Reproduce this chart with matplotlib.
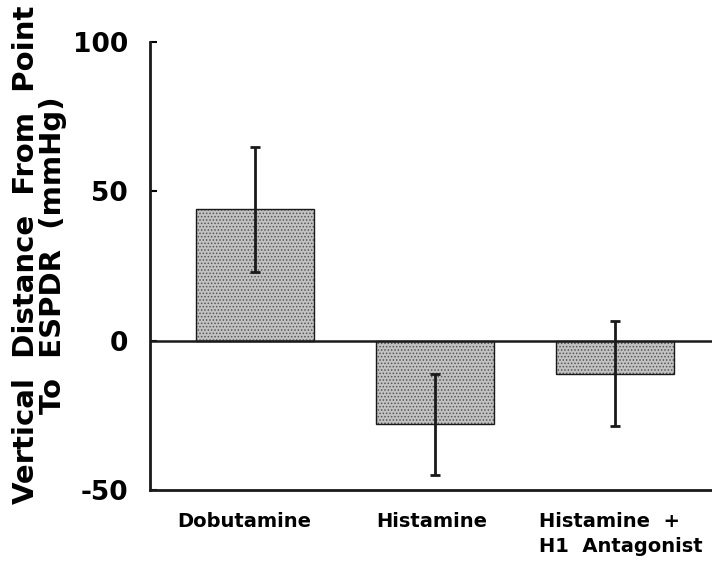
import numpy as np
import matplotlib
matplotlib.use('Agg')
import matplotlib.pyplot as plt
from matplotlib.transforms import ScaledTranslation, blended_transform_factory

plt.rcParams['font.family'] = ['DejaVu Sans']
plt.rcParams['font.weight'] = 'bold'
plt.rcParams['hatch.color'] = '#555555'
plt.rcParams['hatch.linewidth'] = 0.7

# Treatment groups, mean shift and spread (mmHg)
groups = ['Dobutamine', 'Histamine', 'Histamine  +\nH1  Antagonist']
means = [44, -28, -11]
errors = [21, 17, 17.5]

fig = plt.figure(figsize=(7.12, 5.85), dpi=100)
ax = fig.add_axes([150/712, 95/585, 562/712, 448/585])

x = np.arange(1, len(groups) + 1)
width = 0.66

# stippled fill first, then the black outline on top
ax.bar(x, means, width, color='#c2c2c2', hatch='.....', edgecolor='#555555', linewidth=0, zorder=2)
ax.bar(x, means, width, fill=False, edgecolor='#1a1a1a', linewidth=1.0, zorder=3)
ax.errorbar(x, means, yerr=errors, fmt='none', ecolor='#1a1a1a', elinewidth=2.0,
            capsize=3.5, capthick=2.0, zorder=4)

ax.axhline(0, color='#1a1a1a', linewidth=1.8, zorder=5)

ax.set_xlim(0.417, 0.417 + 562/180)
ax.set_ylim(-50, 100)
ax.set_yticks([-50, 0, 50, 100])
ax.set_yticklabels(['-50', '0', '50', '100'])
ax.set_xticks(x)
ax.set_xticklabels([])

# group names under the bars, nudged sideways a little (pixels at 100 dpi)
base = blended_transform_factory(ax.transData, ax.transAxes)
for xi, name, dx in zip(x, groups, [-11, -3, 6]):
    ax.text(xi, -0.05, name, transform=base + ScaledTranslation(dx / 100, 0, fig.dpi_scale_trans),
            ha='center', va='top', multialignment='left', linespacing=1.4,
            fontsize=14, fontweight='bold', clip_on=False)

for side in ['top', 'right']:
    ax.spines[side].set_visible(False)
for side in ['left', 'bottom']:
    ax.spines[side].set_linewidth(2.0)
    ax.spines[side].set_color('#1a1a1a')

ax.tick_params(axis='y', direction='in', length=5, width=1.5, pad=16, labelsize=19)
ax.tick_params(axis='x', length=0)

fig.text(0.056, 0.564, 'Vertical  Distance  From  Point\nTo  ESPDR  (mmHg)',
         rotation=90, ha='center', va='center', multialignment='center',
         fontsize=21, fontweight='bold', linespacing=0.95)

fig.savefig('out.png', dpi=100)
